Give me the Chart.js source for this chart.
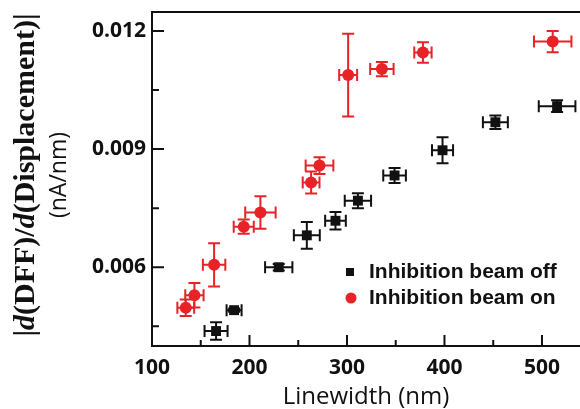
<!DOCTYPE html>
<html>
<head>
<meta charset="utf-8">
<script src="https://cdn.jsdelivr.net/npm/chart.js@4"></script>
<style>
  html, body { margin: 0; padding: 0; background: #fff; }
  #wrap { width: 580px; height: 409px; }
</style>
</head>
<body>
<div id="wrap"><canvas id="lineChart"></canvas></div>
<script>
// Inhibition beam off (black squares)
const offX = [165.7, 184.2, 230.0, 258.8, 288.2, 311.2, 348.8, 398.0, 452.2, 515.5];
const offY = [0.00438, 0.00491, 0.00600, 0.00681, 0.00718, 0.00769, 0.00833, 0.00897, 0.00968, 0.01009];
const offXErr = [11.8, 7.7, 14.0, 13.3, 10.6, 13.5, 11.6, 10.8, 12.8, 18.8];
const offYErr = [0.00022, 0.00004, 0.00008, 0.00034, 0.00022, 0.00019, 0.00019, 0.00033, 0.00017, 0.00015];

// Inhibition beam on (red circles)
const onX = [134.6, 143.5, 163.7, 194.1, 211.2, 263.2, 271.8, 301.2, 335.8, 377.9, 511.0];
const onY = [0.00497, 0.00529, 0.00606, 0.00703, 0.00739, 0.00815, 0.00858, 0.01088, 0.01103, 0.01145, 0.01173];
const onXErr = [8.6, 9.4, 11.5, 10.3, 15.6, 8.6, 14.2, 9.2, 12.0, 8.9, 19.2];
const onYErr = [0.00021, 0.00031, 0.00055, 0.00018, 0.00041, 0.00028, 0.00021, 0.00105, 0.00018, 0.00026, 0.00027];

const xTicks = [100, 200, 300, 400, 500];
const xMinor = [150, 250, 350, 450];
const yTicks = [0.006, 0.009, 0.012];
const yMinor = [0.0045, 0.0075, 0.0105];

const red = 'rgb(232,35,40)';
const black = 'rgb(17,17,17)';

function pts(xs, ys, xe, ye) {
    return xs.map((x, i) => ({ x: x, y: ys[i], xe: xe[i], ye: ye[i] }));
}

function noPad(s) {
    s.paddingTop = 0; s.paddingBottom = 0; s.paddingLeft = 0; s.paddingRight = 0;
}

// error bars, drawn under the markers
const errorBars = {
    id: 'errorBars',
    beforeDatasetsDraw(chart) {
        const ctx = chart.ctx;
        const xs = chart.scales.x, ys = chart.scales.y;
        const cap = 6;
        chart.data.datasets.forEach(ds => {
            ctx.save();
            ctx.strokeStyle = ds.borderColor;
            ctx.lineWidth = 2;
            ds.data.forEach(p => {
                const px = xs.getPixelForValue(p.x), py = ys.getPixelForValue(p.y);
                const x1 = xs.getPixelForValue(p.x - p.xe), x2 = xs.getPixelForValue(p.x + p.xe);
                const y1 = ys.getPixelForValue(p.y - p.ye), y2 = ys.getPixelForValue(p.y + p.ye);
                ctx.beginPath();
                ctx.moveTo(x1, py); ctx.lineTo(x2, py);
                ctx.moveTo(x1, py - cap); ctx.lineTo(x1, py + cap);
                ctx.moveTo(x2, py - cap); ctx.lineTo(x2, py + cap);
                ctx.moveTo(px, y1); ctx.lineTo(px, y2);
                ctx.moveTo(px - cap, y1); ctx.lineTo(px + cap, y1);
                ctx.moveTo(px - cap, y2); ctx.lineTo(px + cap, y2);
                ctx.stroke();
            });
            ctx.restore();
        });
    }
};

// frame, inward ticks, y title and legend
const frame = {
    id: 'frame',
    afterDraw(chart) {
        const ctx = chart.ctx;
        const a = chart.chartArea;
        const xs = chart.scales.x, ys = chart.scales.y;
        ctx.save();
        ctx.strokeStyle = black;
        ctx.lineWidth = 2;
        ctx.strokeRect(a.left, a.top, a.right - a.left + 2, a.bottom - a.top);
        ctx.beginPath();
        xTicks.forEach(v => { const p = xs.getPixelForValue(v); ctx.moveTo(p, a.bottom); ctx.lineTo(p, a.bottom - 11); });
        xMinor.forEach(v => { const p = xs.getPixelForValue(v); ctx.moveTo(p, a.bottom); ctx.lineTo(p, a.bottom - 6); });
        yTicks.forEach(v => { const p = ys.getPixelForValue(v); ctx.moveTo(a.left, p); ctx.lineTo(a.left + 12, p); });
        yMinor.forEach(v => { const p = ys.getPixelForValue(v); ctx.moveTo(a.left, p); ctx.lineTo(a.left + 7, p); });
        ctx.stroke();

        // y axis title, two lines
        ctx.translate(25, 175);
        ctx.rotate(-Math.PI / 2);
        ctx.fillStyle = black;
        ctx.textBaseline = 'middle';
        const up = 'bold 30px "Liberation Serif"';
        const it = 'italic bold 30px "Liberation Serif"';
        const parts = [['|', up], ['d', it], ['(DFF)/', up], ['d', it], ['(Displacement)|', up]];
        let w = 0;
        parts.forEach(p => { ctx.font = p[1]; w += ctx.measureText(p[0]).width; });
        let x = -w / 2;
        ctx.textAlign = 'left';
        parts.forEach(p => { ctx.font = p[1]; ctx.fillText(p[0], x, 1); x += ctx.measureText(p[0]).width; });
        ctx.font = '23px "Open Sans"';
        ctx.textAlign = 'center';
        ctx.fillText('(nA/nm)', 0, 34);
        ctx.restore();

        // legend
        ctx.save();
        ctx.font = 'bold 21px "Liberation Sans"';
        ctx.textBaseline = 'middle';
        ctx.fillStyle = black;
        ctx.fillRect(346, 268, 8, 8);
        ctx.fillText(chart.data.datasets[0].label, 369, 272);
        ctx.fillStyle = red;
        ctx.beginPath();
        ctx.arc(351, 298, 5.5, 0, Math.PI * 2);
        ctx.fill();
        ctx.fillStyle = black;
        ctx.fillText(chart.data.datasets[1].label, 369, 298);
        ctx.restore();
    }
};

const ctx = document.getElementById('lineChart');
new Chart(ctx, {
    type: 'scatter',
    data: {
        datasets: [{
            label: 'Inhibition beam off',
            data: pts(offX, offY, offXErr, offYErr),
            pointStyle: 'rect',
            pointRadius: 7,
            borderColor: black,
            backgroundColor: black,
            borderWidth: 0
        }, {
            label: 'Inhibition beam on',
            data: pts(onX, onY, onXErr, onYErr),
            pointStyle: 'circle',
            pointRadius: 6,
            borderColor: red,
            backgroundColor: red,
            borderWidth: 0
        }]
    },
    options: {
        responsive: true,
        maintainAspectRatio: false,
        animation: false,
        layout: { autoPadding: false, padding: { top: 12, right: 0, left: 0, bottom: 0 } },
        scales: {
            x: {
                type: 'linear',
                min: 100,
                max: 539,
                afterBuildTicks: s => { s.ticks = xTicks.map(v => ({ value: v })); },
                afterFit: s => { s.height = 63; noPad(s); },
                grid: { display: false, drawTicks: false },
                border: { display: false },
                ticks: {
                    padding: 9,
                    color: black,
                    font: { family: 'Open Sans', size: 21, weight: 'bold' }
                },
                title: {
                    display: true,
                    text: 'Linewidth (nm)',
                    color: black,
                    padding: { top: 0, bottom: 0 },
                    font: { family: 'Open Sans', size: 24, lineHeight: 1.0 }
                }
            },
            y: {
                min: 0.004,
                max: 0.01248,
                afterBuildTicks: s => { s.ticks = yTicks.map(v => ({ value: v })); },
                afterFit: s => { s.width = 152; noPad(s); },
                grid: { display: false, drawTicks: false },
                border: { display: false },
                ticks: {
                    padding: 6,
                    color: black,
                    font: { family: 'Open Sans', size: 21, weight: 'bold' },
                    callback: v => v.toFixed(3)
                }
            }
        },
        plugins: {
            legend: { display: false },
            tooltip: { enabled: false }
        }
    },
    plugins: [errorBars, frame]
});
</script>
</body>
</html>
